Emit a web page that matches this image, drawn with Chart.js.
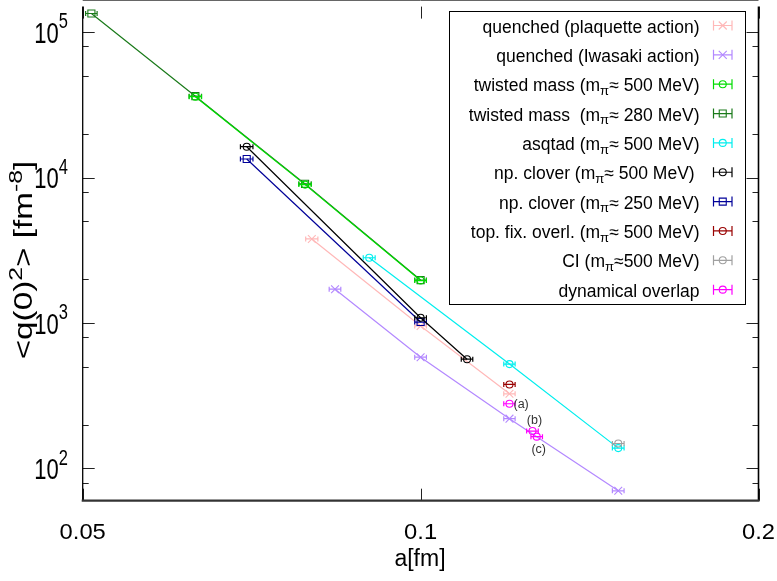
<!DOCTYPE html>
<html><head><meta charset="utf-8">
<script src="https://cdn.jsdelivr.net/npm/chart.js@4.4.1/dist/chart.umd.min.js"></script>
<style>html,body{margin:0;padding:0;background:#fff;}canvas{display:block;}</style>
</head><body>
<canvas id="c" width="777" height="581"></canvas>
<script>
const FONT = '"Liberation Sans", Arial, sans-serif';

// ---- data (a in fm, <q(0)^2> in fm^-8, horizontal errors in fm) ----
const aPlaq = [0.0800, 0.1000, 0.1200];
const qPlaq = [3785, 955, 326];
const ePlaq = [0.0010, 0.0012, 0.0014];

const aIwa = [0.0839, 0.1000, 0.1200, 0.1500];
const qIwa = [1708, 582, 220, 70.2];
const eIwa = [0.0010, 0.0012, 0.0014, 0.0018];

const aTm500 = [0.0630, 0.0789, 0.1000];
const qTm500 = [36000, 8950, 1960];
const eTm500 = [0.0008, 0.0010, 0.0012];

const aTm280 = [0.0509, 0.0630, 0.0789, 0.1000];
const qTm280 = [134500, 36300, 9060, 1975];
const eTm280 = [0.0006, 0.0008, 0.0010, 0.0012];

const aAsq = [0.0900, 0.1200, 0.1500];
const qAsq = [2812, 522, 138];
const eAsq = [0.0011, 0.0014, 0.0018];

const aCl500 = [0.0700, 0.1000, 0.1100];
const qCl500 = [16310, 1087, 564];
const eCl500 = [0.0009, 0.0012, 0.0013];

const aCl250 = [0.0700, 0.1000];
const qCl250 = [13430, 1016];
const eCl250 = [0.0009, 0.0012];

const aTop = [0.1200];
const qTop = [378];
const eTop = [0.0014];

const aCI = [0.1500];
const qCI = [148.4];
const eCI = [0.0018];

const aDov = [0.1200, 0.1258, 0.1269];
const qDov = [278.6, 180.8, 165.4];
const eDov = [0.0014, 0.0015, 0.0015];
const dovNotes = ['(a)', '(b)', '(c)'];

const xTickValues = [0.05, 0.1, 0.2];
const xTickLabels = ['0.05', '0.1', '0.2'];
const yTickValues = [100, 1000, 10000, 100000];
const yTickExps = ['2', '3', '4', '5'];
const yMinorTicks = [80, 200, 500, 800, 2000, 5000, 8000, 20000, 50000, 80000];

// legend labels: [text, mode] mode: 0 normal, 1 sup, -1 sub
const PI = [['m',0],['\u03c0',-1]];
const series = [
  {a:aPlaq, q:qPlaq, e:ePlaq, color:'#ffb8b8', marker:'crossRot', line:true,
   label:[['quenched (plaquette action)',0]]},
  {a:aIwa, q:qIwa, e:eIwa, color:'#b388ff', marker:'crossRot', line:true,
   label:[['quenched (Iwasaki action)',0]]},
  {a:aTm500, q:qTm500, e:eTm500, color:'#00dd00', marker:'circle', line:true,
   label:[['twisted mass (',0],...PI,['\u2248 500 MeV)',0]]},
  {a:aTm280, q:qTm280, e:eTm280, color:'#1a7a1a', marker:'rect', line:true,
   label:[['twisted mass  (',0],...PI,['\u2248 280 MeV)',0]]},
  {a:aAsq, q:qAsq, e:eAsq, color:'#00eeee', marker:'circle', line:true,
   label:[['asqtad (',0],...PI,['\u2248 500 MeV)',0]]},
  {a:aCl500, q:qCl500, e:eCl500, color:'#000000', marker:'circle', line:true,
   label:[['np. clover (',0],...PI,['\u2248 500 MeV) ',0]]},
  {a:aCl250, q:qCl250, e:eCl250, color:'#000099', marker:'rect', line:true,
   label:[['np. clover (',0],...PI,['\u2248 250 MeV)',0]]},
  {a:aTop, q:qTop, e:eTop, color:'#990000', marker:'circle', line:true,
   label:[['top. fix. overl. (',0],...PI,['\u2248 500 MeV)',0]]},
  {a:aCI, q:qCI, e:eCI, color:'#a0a0a0', marker:'circle', line:true,
   label:[['CI (',0],...PI,['\u2248500 MeV)',0]]},
  {a:aDov, q:qDov, e:eDov, color:'#ff00ff', marker:'circle', line:false,
   label:[['dynamical overlap',0]]}
];
const drawOrder = [9,8,3,4,5,6,7,2,1,0]; // lower = drawn later (on top)

function radiusFor(m){ return m==='rect' ? 5 : (m==='crossRot' ? 5.5 : 3.5); }

const datasets = series.map((s, i) => ({
  data: s.a.map((v, k) => ({x: v, y: s.q[k]})),
  xerr: s.e,
  borderColor: s.color,
  backgroundColor: 'rgba(0,0,0,0)',
  pointBorderColor: s.color,
  pointBackgroundColor: 'rgba(0,0,0,0)',
  pointStyle: s.marker,
  pointRadius: radiusFor(s.marker),
  pointBorderWidth: 1.1,
  borderWidth: 1.2,
  showLine: s.line,
  tension: 0,
  order: drawOrder[i],
  clip: false
}));

function setFont(ctx, size){ ctx.font = size + 'px ' + FONT; }

function richWidth(ctx, parts, size){
  let w = 0;
  for (const [t, m] of parts){ setFont(ctx, m ? size*0.75 : size); w += ctx.measureText(t).width; }
  return w;
}
// draws rich text; sx/sy stretch glyphs; supRaise in units of size
function richDraw(ctx, parts, x, y, size, align, sx, sy, supRaise){
  sx = sx || 1; sy = sy || 1; supRaise = supRaise || 0.42;
  const w = richWidth(ctx, parts, size);
  let cx = align === 'right' ? -w : (align === 'center' ? -w/2 : 0);
  ctx.save();
  ctx.translate(x, y);
  ctx.scale(sx, sy);
  ctx.textAlign = 'left'; ctx.textBaseline = 'alphabetic';
  for (const [t, m] of parts){
    const s = m ? size*0.75 : size;
    setFont(ctx, s);
    const dy = m === 1 ? -size*supRaise : (m === -1 ? size*0.22 : 0);
    ctx.fillText(t, cx, dy);
    cx += ctx.measureText(t).width;
  }
  ctx.restore();
}

function drawMarker(ctx, m, x, y, color){
  ctx.strokeStyle = color; ctx.lineWidth = 1.1;
  ctx.beginPath();
  if (m === 'circle'){ ctx.arc(x, y, 3.5, 0, Math.PI*2); }
  else if (m === 'rect'){ ctx.rect(x-3.5, y-3.5, 7, 7); }
  else { ctx.moveTo(x-4, y-4); ctx.lineTo(x+4, y+4); ctx.moveTo(x-4, y+4); ctx.lineTo(x+4, y-4); }
  ctx.stroke();
}

const errPlugin = {
  id: 'xerr',
  afterDatasetDraw(chart, args){
    const ds = chart.data.datasets[args.index];
    const ctx = chart.ctx, xs = chart.scales.x, ys = chart.scales.y;
    ctx.save();
    ctx.strokeStyle = ds.borderColor; ctx.lineWidth = 1.2;
    ds.data.forEach((p, k) => {
      const e = ds.xerr[k];
      const x1 = xs.getPixelForValue(p.x - e), x2 = xs.getPixelForValue(p.x + e);
      const py = ys.getPixelForValue(p.y);
      ctx.beginPath();
      ctx.moveTo(x1, py); ctx.lineTo(x2, py);
      ctx.moveTo(x1, py-2.5); ctx.lineTo(x1, py+2.5);
      ctx.moveTo(x2, py-2.5); ctx.lineTo(x2, py+2.5);
      ctx.stroke();
    });
    ctx.restore();
  }
};

const framePlugin = {
  id: 'frame',
  afterDraw(chart){
    const ctx = chart.ctx, xs = chart.scales.x, ys = chart.scales.y;
    const A = chart.chartArea;
    ctx.save();
    // ticks
    ctx.strokeStyle = '#222'; ctx.lineWidth = 1;
    ctx.beginPath();
    yTickValues.forEach(v => { const y = Math.round(ys.getPixelForValue(v)) + 0.5;
      ctx.moveTo(A.left, y); ctx.lineTo(A.left + 12, y);
      ctx.moveTo(A.right, y); ctx.lineTo(A.right - 12, y); });
    yMinorTicks.forEach(v => { const y = Math.round(ys.getPixelForValue(v)) + 0.5;
      ctx.moveTo(A.left, y); ctx.lineTo(A.left + 6, y);
      ctx.moveTo(A.right, y); ctx.lineTo(A.right - 6, y); });
    xTickValues.forEach(v => { const x = Math.round(xs.getPixelForValue(v)) + 0.5;
      ctx.moveTo(x, A.bottom); ctx.lineTo(x, A.bottom - 12);
      ctx.moveTo(x, A.top); ctx.lineTo(x, A.top + 12); });
    ctx.stroke();
    // border
    ctx.strokeStyle = '#666'; ctx.lineWidth = 1;
    ctx.beginPath(); ctx.moveTo(A.left, 0.5); ctx.lineTo(A.right, 0.5); ctx.stroke();
    ctx.strokeStyle = '#000'; ctx.lineWidth = 1.3;
    ctx.beginPath(); ctx.moveTo(A.left, A.top); ctx.lineTo(A.left, A.bottom); ctx.stroke();
    ctx.lineWidth = 1.6;
    ctx.beginPath(); ctx.moveTo(A.right, A.top); ctx.lineTo(A.right, A.bottom); ctx.stroke();
    ctx.strokeStyle = '#333'; ctx.lineWidth = 2.2;
    ctx.beginPath(); ctx.moveTo(A.left - 1, A.bottom); ctx.lineTo(A.right + 1, A.bottom); ctx.stroke();

    // tick labels
    ctx.fillStyle = '#000';
    xTickValues.forEach((v, i) => {
      richDraw(ctx, [[xTickLabels[i], 0]], xs.getPixelForValue(v), 539, 22, 'center', 1.08, 1);
    });
    yTickValues.forEach((v, i) => {
      const y = ys.getPixelForValue(v);
      richDraw(ctx, [['10', 0], [yTickExps[i], 1]], 68, y + 10.5, 22, 'right', 1, 1.3, 0.5);
    });
    // axis titles
    richDraw(ctx, [['a[fm]', 0]], 420, 566, 23, 'center');
    ctx.save();
    ctx.translate(32, 260);
    ctx.rotate(-Math.PI/2);
    richDraw(ctx, [['<q(0)',0],['2',1],['> [fm',0],['-8',1],[']',0]], 0, 0, 25, 'center', 1.33, 1);
    ctx.restore();

    // annotations for dynamical overlap
    ctx.fillStyle = '#333';
    const dv = chart.data.datasets[9].data;
    const off = [[4, 4, 'left'], [2, -7, 'center'], [2, 16, 'center']];
    dv.forEach((p, k) => {
      const px = xs.getPixelForValue(p.x), py = ys.getPixelForValue(p.y);
      richDraw(ctx, [[dovNotes[k], 0]], px + off[k][0], py + off[k][1], 12.5, off[k][2]);
    });

    // legend
    const L = {x1: 449.5, y1: 11.5, x2: 745.5, y2: 304.5};
    ctx.fillStyle = '#fff';
    ctx.fillRect(L.x1, L.y1, L.x2 - L.x1, L.y2 - L.y1);
    ctx.strokeStyle = '#000'; ctx.lineWidth = 1;
    ctx.strokeRect(L.x1, L.y1, L.x2 - L.x1, L.y2 - L.y1);
    series.forEach((s, i) => {
      const yc = 25.5 + i * 29.35;
      ctx.fillStyle = '#000';
      richDraw(ctx, s.label, 699.5, yc + 7, 17.5, 'right');
      ctx.strokeStyle = s.color; ctx.lineWidth = 1.2;
      ctx.beginPath();
      ctx.moveTo(713.5, yc); ctx.lineTo(732, yc);
      ctx.moveTo(713.5, yc - 5); ctx.lineTo(713.5, yc + 5);
      ctx.moveTo(732, yc - 5); ctx.lineTo(732, yc + 5);
      ctx.stroke();
      drawMarker(ctx, s.marker, 722.75, yc, s.color);
    });
    ctx.restore();
  }
};

new Chart(document.getElementById('c'), {
  type: 'scatter',
  data: { datasets },
  options: {
    responsive: false,
    animation: false,
    layout: { padding: { left: 0, right: 18.5, top: 0, bottom: 0 } },
    plugins: { legend: { display: false }, tooltip: { enabled: false } },
    scales: {
      x: { type: 'logarithmic', min: 0.05, max: 0.2,
           ticks: { display: false }, grid: { display: false }, border: { display: false },
           afterFit(s){ s.height = 80.3; } },
      y: { type: 'logarithmic', min: 60, max: 150000,
           ticks: { display: false }, grid: { display: false }, border: { display: false },
           afterFit(s){ s.width = 82.7; } }
    }
  },
  plugins: [errPlugin, framePlugin]
});
</script>
</body></html>
